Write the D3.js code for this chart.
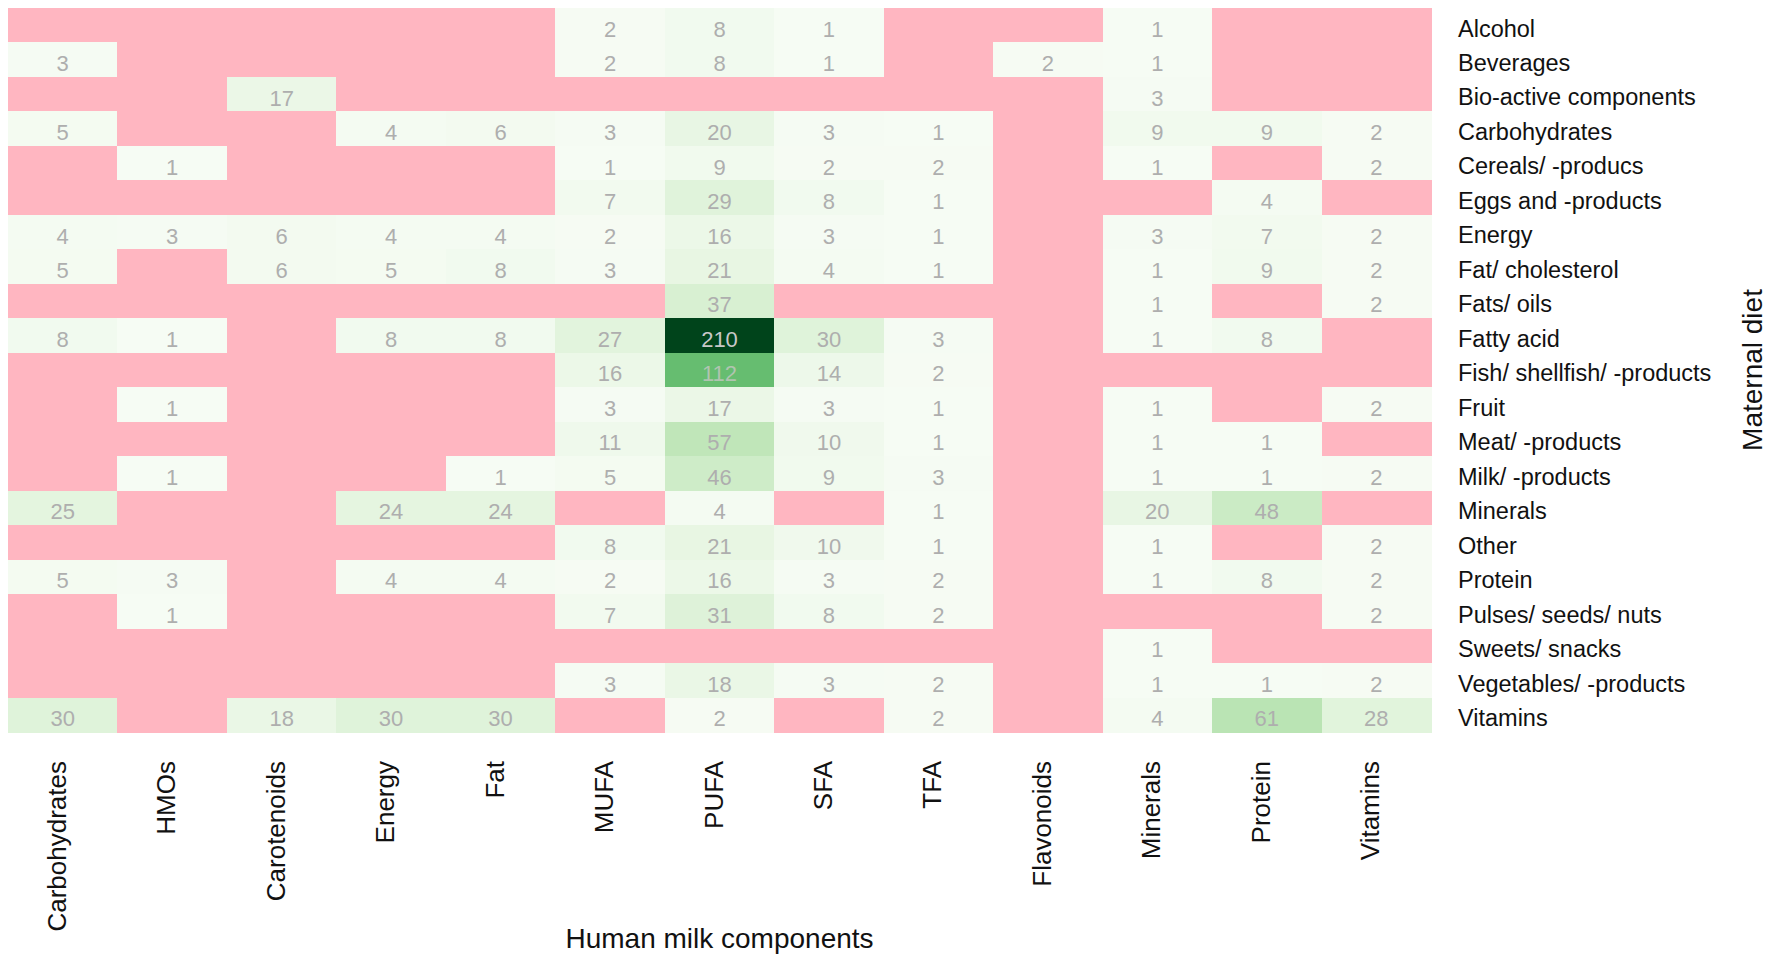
<!DOCTYPE html>
<html>
<head>
<meta charset="utf-8">
<script src="https://cdn.jsdelivr.net/npm/d3@7"></script>
<style>
  html, body { margin: 0; padding: 0; background: #ffffff; }
  svg { display: block; }
  text { font-family: "Liberation Sans", Arial, sans-serif; }
</style>
</head>
<body>
<svg id="chart" width="1772" height="964"></svg>
<script>
// Human milk components (x axis)
const components = ["Carbohydrates", "HMOs", "Carotenoids", "Energy", "Fat", "MUFA", "PUFA",
  "SFA", "TFA", "Flavonoids", "Minerals", "Protein", "Vitamins"];

// Maternal diet (y axis, top to bottom)
const diets = ["Alcohol", "Beverages", "Bio-active components", "Carbohydrates", "Cereals/ -producs",
  "Eggs and -products", "Energy", "Fat/ cholesterol", "Fats/ oils", "Fatty acid",
  "Fish/ shellfish/ -products", "Fruit", "Meat/ -products", "Milk/ -products", "Minerals",
  "Other", "Protein", "Pulses/ seeds/ nuts", "Sweets/ snacks", "Vegetables/ -products", "Vitamins"];

// Number of studies per diet (row) x component (column); null = none
const counts = [
  [null, null, null, null, null, 2, 8, 1, null, null, 1, null, null],      // Alcohol
  [3, null, null, null, null, 2, 8, 1, null, 2, 1, null, null],            // Beverages
  [null, null, 17, null, null, null, null, null, null, null, 3, null, null], // Bio-active
  [5, null, null, 4, 6, 3, 20, 3, 1, null, 9, 9, 2],                       // Carbohydrates
  [null, 1, null, null, null, 1, 9, 2, 2, null, 1, null, 2],               // Cereals
  [null, null, null, null, null, 7, 29, 8, 1, null, null, 4, null],        // Eggs
  [4, 3, 6, 4, 4, 2, 16, 3, 1, null, 3, 7, 2],                             // Energy
  [5, null, 6, 5, 8, 3, 21, 4, 1, null, 1, 9, 2],                          // Fat/ cholesterol
  [null, null, null, null, null, null, 37, null, null, null, 1, null, 2],  // Fats/ oils
  [8, 1, null, 8, 8, 27, 210, 30, 3, null, 1, 8, null],                    // Fatty acid
  [null, null, null, null, null, 16, 112, 14, 2, null, null, null, null],  // Fish
  [null, 1, null, null, null, 3, 17, 3, 1, null, 1, null, 2],              // Fruit
  [null, null, null, null, null, 11, 57, 10, 1, null, 1, 1, null],         // Meat
  [null, 1, null, null, 1, 5, 46, 9, 3, null, 1, 1, 2],                    // Milk
  [25, null, null, 24, 24, null, 4, null, 1, null, 20, 48, null],          // Minerals
  [null, null, null, null, null, 8, 21, 10, 1, null, 1, null, 2],          // Other
  [5, 3, null, 4, 4, 2, 16, 3, 2, null, 1, 8, 2],                          // Protein
  [null, 1, null, null, null, 7, 31, 8, 2, null, null, null, 2],           // Pulses
  [null, null, null, null, null, null, null, null, null, null, 1, null, null], // Sweets
  [null, null, null, null, null, 3, 18, 3, 2, null, 1, 1, 2],              // Vegetables
  [30, null, 18, 30, 30, null, 2, null, 2, null, 4, 61, 28]                // Vitamins
];

const xTitle = "Human milk components";
const yTitle = "Maternal diet";

const svg = d3.select("#chart");
const mLeft = 8, mRight = 1431, mTop = 8, mBottom = 732;

const x = d3.scaleBand().domain(components).range([mLeft, mRight]).padding(0);
const y = d3.scaleBand().domain(diets).range([mTop, mBottom]).padding(0);

const maxVal = d3.max(counts.flat().filter(v => v != null));
const color = d3.scaleSequential(d3.interpolateGreens).domain([0, maxVal]);
const naColor = "#FFB6C1";

const cells = [];
counts.forEach((row, i) => row.forEach((v, j) => cells.push({ diet: diets[i], comp: components[j], v })));

svg.append("rect").attr("width", 1772).attr("height", 964).attr("fill", "#ffffff");

const g = svg.append("g");
g.selectAll("rect.cell").data(cells).join("rect")
  .attr("class", "cell")
  .attr("x", d => x(d.comp))
  .attr("y", d => y(d.diet))
  .attr("width", x.bandwidth() + 0.5)
  .attr("height", y.bandwidth() + 0.5)
  .attr("fill", d => d.v == null ? naColor : color(d.v))
  .attr("shape-rendering", "crispEdges");

g.selectAll("text.val").data(cells.filter(d => d.v != null)).join("text")
  .attr("class", "val")
  .attr("x", d => x(d.comp) + x.bandwidth() / 2)
  .attr("y", d => y(d.diet) + y.bandwidth() / 2)
  .attr("dy", "0.52em")
  .attr("text-anchor", "middle")
  .attr("font-size", 22)
  .attr("fill", d => d.v === maxVal ? "#c8c8c8" : (d.v > 100 ? "#b0c4b0" : "#aeaeae"))
  .text(d => d.v);

// Right axis: diet labels
const yAxis = d3.axisRight(y).tickSize(0).tickPadding(0);
const yAx = svg.append("g").attr("transform", `translate(1458,0)`).call(yAxis);
yAx.select(".domain").remove();
yAx.selectAll("text")
  .attr("font-family", "'Liberation Sans', Arial, sans-serif")
  .attr("font-size", 23.5)
  .attr("fill", "#111111")
  .attr("dy", "0.48em")
  .attr("x", 0);

// Bottom axis: component labels, rotated
const xAxis = d3.axisBottom(x).tickSize(0).tickPadding(0);
const xAx = svg.append("g").attr("transform", `translate(0,761)`).call(xAxis);
xAx.select(".domain").remove();
xAx.selectAll("text")
  .attr("font-family", "'Liberation Sans', Arial, sans-serif")
  .attr("font-size", 26)
  .attr("fill", "#111111")
  .attr("text-anchor", "end")
  .attr("transform", "rotate(-90)")
  .attr("x", 0)
  .attr("y", 3)
  .attr("dy", 0);

// Axis titles
svg.append("text")
  .attr("x", (mLeft + mRight) / 2)
  .attr("y", 948)
  .attr("text-anchor", "middle")
  .attr("font-size", 28)
  .attr("fill", "#111111")
  .text(xTitle);

svg.append("text")
  .attr("transform", `translate(1762,${(mTop + mBottom) / 2}) rotate(-90)`)
  .attr("text-anchor", "middle")
  .attr("font-size", 28)
  .attr("fill", "#111111")
  .text(yTitle);
</script>
</body>
</html>
